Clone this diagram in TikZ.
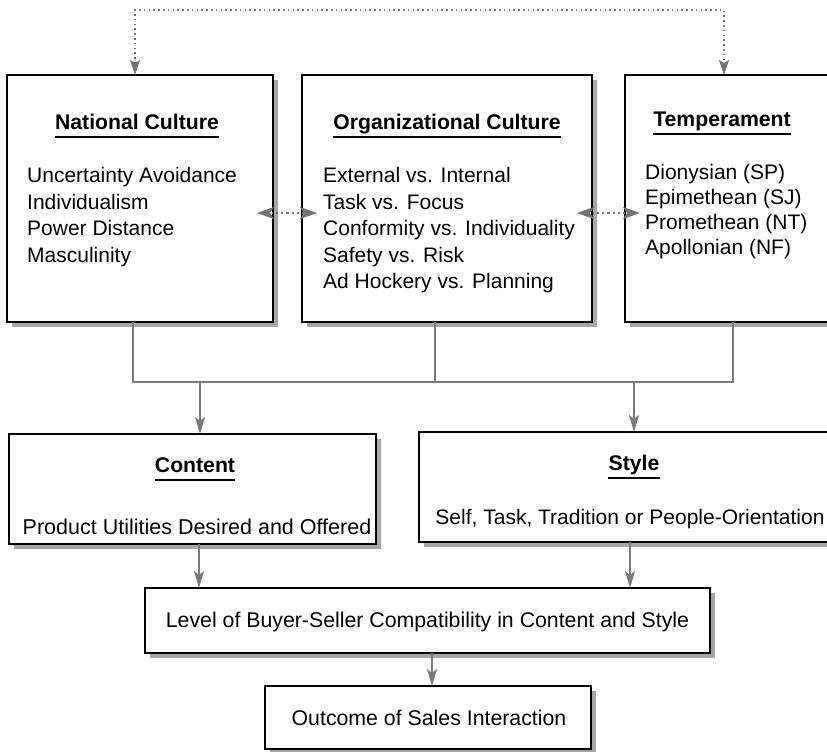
\documentclass[tikz,border=0pt]{standalone}
\usepackage{fontspec}
\setmainfont{Liberation Sans}
\usetikzlibrary{arrows.meta,shadows}
\begin{document}
\begin{tikzpicture}[x=1pt,y=-1pt,
  font=\fontsize{21}{25}\selectfont,
  box/.style={draw=black, line width=1.8pt, fill=white, inner sep=0pt, outer sep=0pt,
    anchor=north west,
    drop shadow={shadow xshift=5pt, shadow yshift=-5pt, fill=black!35, opacity=1}},
  ttl/.style={font=\fontsize{21.2}{25}\selectfont\bfseries, inner sep=0pt, anchor=base},
  item/.style={inner sep=0pt, anchor=base west},
  txt/.style={inner sep=0pt, anchor=base},
  uline/.style={draw=black, line width=1.8pt},
  conn/.style={draw=black!52, line width=2.2pt},
  tip/.style={-{Stealth[length=17pt,width=10pt,inset=4pt]}},
  dtipr/.style={-{Stealth[length=17pt,width=12pt,inset=4pt]}},
  dotconn/.style={draw=black!55, line width=1.6pt, dash pattern=on 1.6pt off 3.2pt},
  dtip/.style={{Stealth[length=15pt,width=10pt,inset=3pt]}-{Stealth[length=15pt,width=10pt,inset=3pt]}}
]
\useasboundingbox (0,0) rectangle (827,752);
\clip (0,0) rectangle (827,752);

% ---------- top row boxes ----------
\node[box, minimum width=266pt, minimum height=247pt] (NC) at (7,75) {};
\node[box, minimum width=290pt, minimum height=247pt] (OC) at (302,75) {};
\node[box, minimum width=215pt, minimum height=247pt] (TP) at (625,75) {};

% titles
\node[ttl] (ncT) at (137,129.6) {National Culture};
\node[ttl] (ocT) at (447,129.6) {Organizational Culture};
\node[ttl] (tpT) at (722,126.6) {Temperament};
\foreach \n in {ncT,ocT,tpT}
  \draw[uline] ([yshift=-7.5pt]\n.base west) -- ([yshift=-7.5pt]\n.base east);

% items
\foreach [count=\i] \t in {Uncertainty Avoidance, Individualism, Power Distance, Masculinity}
  \node[item] (nc\i) at ({27},{156.1+26.5*\i}) {\t};
\foreach [count=\i] \t in {External vs. Internal, Task vs. Focus, Conformity vs. Individuality, Safety vs. Risk, Ad Hockery vs. Planning}
  \node[item] (oc\i) at ({323},{156.1+26.5*\i}) {\t};
\foreach [count=\i] \t in {Dionysian (SP), Epimethean (SJ), Promethean (NT), Apollonian (NF)}
  \node[item] (tp\i) at ({645},{154.6+25*\i}) {\t};

% ---------- middle row ----------
\node[box, minimum width=367pt, minimum height=110pt] (CT) at (9,434) {};
\node[box, minimum width=422pt, minimum height=110pt] (ST) at (419,432) {};
\node[ttl] (ctT) at (195,472.6) {Content};
\node[ttl] (stT) at (634,470.6) {Style};
\foreach \n in {ctT,stT}
  \draw[uline] ([yshift=-7.5pt]\n.base west) -- ([yshift=-7.5pt]\n.base east);
\node[txt, font=\fontsize{21.5}{25}\selectfont] (ctx) at (197,534.6) {Product Utilities Desired and Offered};
\node[txt] (stx) at (630,524.6) {Self, Task, Tradition or People-Orientation};

% ---------- bottom ----------
\node[box, minimum width=565pt, minimum height=65pt] (LV) at (145,588) {};
\node[txt, font=\fontsize{21.3}{25}\selectfont] (lvx) at (427.5,627.6) {Level of Buyer-Seller Compatibility in Content and Style};
\node[box, minimum width=326pt, minimum height=63pt] (OU) at (265,686) {};
\node[txt, font=\fontsize{21.3}{25}\selectfont] (oux) at (429,725.1) {Outcome of Sales Interaction};

% ---------- connectors ----------
% top dotted feedback loop
\coordinate (tl) at (135,10);
\coordinate (tr) at (724,10);
\draw[dotconn, dtip] (tl |- NC.north) -- (tl) -- (tr) -- (tr |- TP.north);

% dotted double arrows between top boxes
\coordinate (m1) at (287.5,213);
\coordinate (m2) at (608.5,213);
\draw[dotconn, dtipr] (m1) -- ([xshift=-16pt]NC.east |- m1);
\draw[dotconn, dtipr] (m1) -- ([xshift=15pt]OC.west |- m1);
\draw[dotconn, dtipr] (m2) -- ([xshift=-15pt]OC.east |- m2);
\draw[dotconn, dtipr] (m2) -- ([xshift=15pt]TP.west |- m2);

% bus
\coordinate (b1) at (133,382);
\coordinate (b2) at (435,382);
\coordinate (b3) at (733,382);
\draw[conn] (b1 |- NC.south) -- (b1) -- (b3) -- (b3 |- TP.south);
\draw[conn] (b2 |- OC.south) -- (b2);
\coordinate (d1) at (200,382);
\coordinate (d2) at (634,382);
\draw[conn, tip] (d1) -- (d1 |- CT.north);
\draw[conn, tip] (d2) -- (d2 |- ST.north);

% to level and outcome
\coordinate (x1) at (199,0);
\coordinate (x2) at (630,0);
\coordinate (x3) at (432,0);
\draw[conn, tip] (x1 |- CT.south) -- (x1 |- LV.north);
\draw[conn, tip] (x2 |- ST.south) -- (x2 |- LV.north);
\draw[conn, tip] (x3 |- LV.south) -- (x3 |- OU.north);
\end{tikzpicture}
\end{document}
